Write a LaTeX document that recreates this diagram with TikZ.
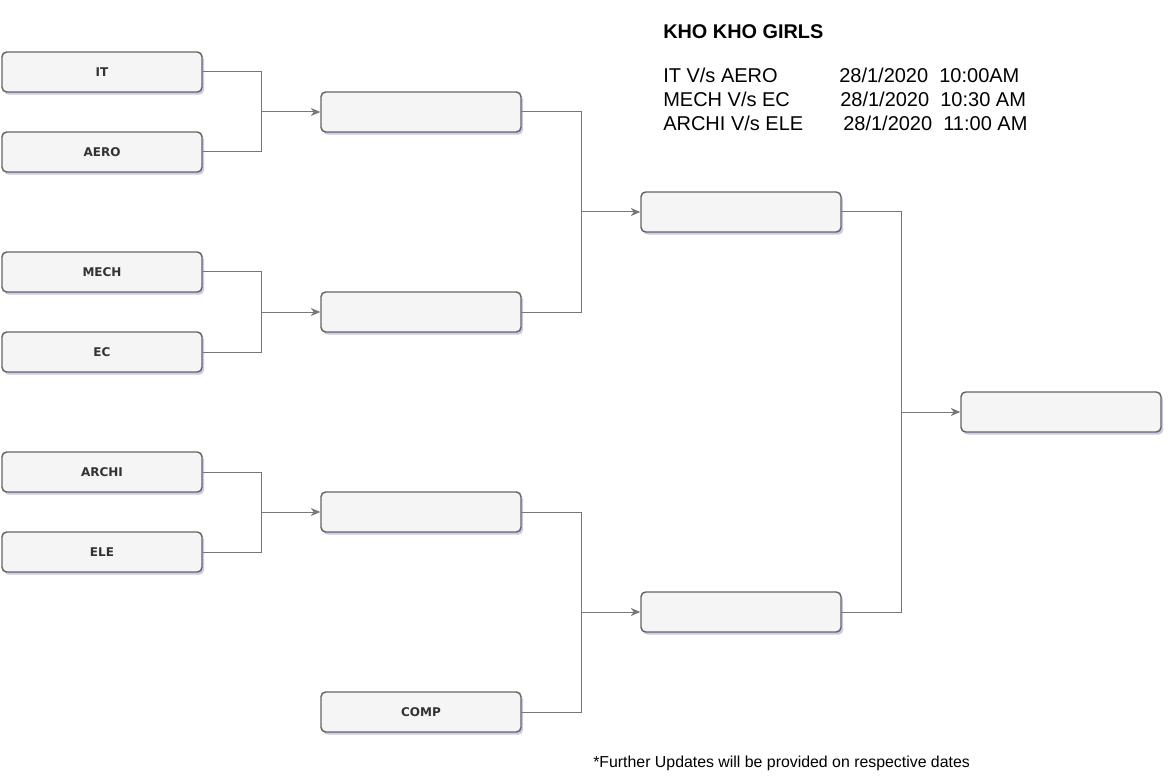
\documentclass[tikz,border=0pt]{standalone}
\usepackage{fontspec}
\setmainfont{Liberation Sans}
\newfontfamily\teamfont{DejaVu Sans}
\usetikzlibrary{arrows.meta,shadows}

\definecolor{boxline}{HTML}{666666}
\definecolor{boxfill}{HTML}{F5F5F5}
\definecolor{wireline}{HTML}{777777}
\definecolor{teamtext}{HTML}{333333}

\tikzset{
	slot/.style={draw=boxline,fill=boxfill,line width=1.1pt,rounded corners=3.5pt,
		minimum width=150pt,minimum height=30pt,inner sep=0pt,
		drop shadow={shadow xshift=1.5pt,shadow yshift=-2pt,fill=blue!40!gray,opacity=0.3},
		font=\teamfont\bfseries\fontsize{9}{10}\selectfont,text=teamtext},
	wire/.style={draw=wireline,line width=0.75pt},
	feed/.style={wire,-{Stealth[length=7pt,width=6pt,inset=2pt]}},
	info/.style={anchor=base west,inner sep=0pt,font=\fontsize{15}{18}\selectfont}
}

\begin{document}
\begin{tikzpicture}[x=0.75pt,y=0.75pt,yscale=-1,xscale=1]
	\useasboundingbox (0,0) rectangle (1174,784);
	
	%Rounded Rect: first round
	\node [slot] (it) at (102,72) {IT};
	\node [slot] (aero) at (102,152) {AERO};
	\node [slot] (mech) at (102,272) {MECH};
	\node [slot] (ec) at (102,352) {EC};
	\node [slot] (archi) at (102,472) {ARCHI};
	\node [slot] (ele) at (102,552) {ELE};
	
	%Rounded Rect: second round
	\node [slot] (win1) at (421,112) {};
	\node [slot] (win2) at (421,312) {};
	\node [slot] (win3) at (421,512) {};
	\node [slot] (comp) at (421,712) {COMP};
	
	%Rounded Rect: semi finals and final
	\node [slot] (semi1) at (741,212) {};
	\node [slot] (semi2) at (741,612) {};
	\node [slot] (final) at (1061,412) {};
	
	%Join points
	\coordinate (j1) at (261,112);
	\coordinate (j2) at (261,312);
	\coordinate (j3) at (261,512);
	\coordinate (j4) at (581,212);
	\coordinate (j5) at (581,612);
	\coordinate (j6) at (901,412);
	
	%Connectors
	\draw [wire] (it) -| (j1);
	\draw [wire] (aero) -| (j1);
	\draw [feed] (j1) -- (win1);
	\draw [wire] (mech) -| (j2);
	\draw [wire] (ec) -| (j2);
	\draw [feed] (j2) -- (win2);
	\draw [wire] (archi) -| (j3);
	\draw [wire] (ele) -| (j3);
	\draw [feed] (j3) -- (win3);
	\draw [wire] (win1) -| (j4);
	\draw [wire] (win2) -| (j4);
	\draw [feed] (j4) -- (semi1);
	\draw [wire] (win3) -| (j5);
	\draw [wire] (comp) -| (j5);
	\draw [feed] (j5) -- (semi2);
	\draw [wire] (semi1) -| (j6);
	\draw [wire] (semi2) -| (j6);
	\draw [feed] (j6) -- (final);
	
	% Text Node
	\node [info,font=\bfseries\fontsize{14.9}{17}\selectfont] (title) at (663,39) {KHO KHO GIRLS};
	% Text Node
	\node [info] (game1) at (663,83) {IT V/s AERO};
	\node [info] (date1) at (839,83) {28/1/2020~~10:00AM};
	% Text Node
	\node [info] (game2) at (663,107) {MECH V/s EC};
	\node [info] (date2) at (840,107) {28/1/2020~~10:30 AM};
	% Text Node
	\node [info] (game3) at (663,131) {ARCHI V/s ELE};
	\node [info] (date3) at (843,131) {28/1/2020~~11:00 AM};
	% Text Node
	\node [info,font=\fontsize{11.9}{14}\selectfont] (note) at (593,767) {*Further Updates will be provided on respective dates};
	
\end{tikzpicture}
\end{document}
